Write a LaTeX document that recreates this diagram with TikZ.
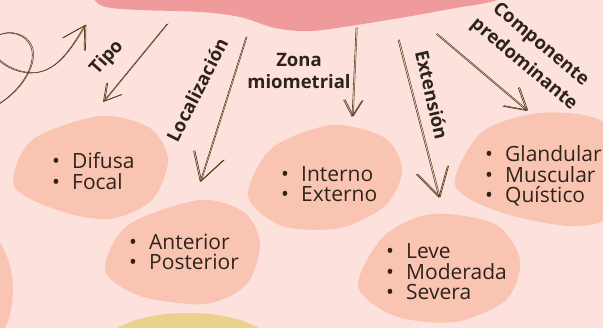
\documentclass[tikz,border=0pt]{standalone}
\usepackage{fontspec}
\setmainfont{Open Sans}
\usetikzlibrary{arrows.meta, positioning}
\definecolor{mybg}{RGB}{253,225,220}
\definecolor{myblob}{RGB}{250,196,178}
\definecolor{mytop}{RGB}{240,155,155}
\definecolor{myyellow}{RGB}{234,210,140}
\definecolor{mytext}{RGB}{45,35,25}
\definecolor{myarrow}{RGB}{85,62,30}
\tikzset{
  blob/.style={fill=myblob, draw=none},
  lbl/.style={font=\bfseries\fontsize{18.5}{22}\selectfont, text=mytext, align=center, inner sep=0pt},
  lst/.style={font=\fontsize{21}{20.5}\selectfont, text=mytext, align=left, inner sep=0pt, anchor=west},
  hand/.style={draw=myarrow, line width=0.6pt, -{Straight Barb[length=#1, width'=0pt 1.15, line width=0.7pt]},
    preaction={draw=myarrow, line width=0.5pt, transform canvas={shift={(1.3pt,0.5pt)}}}}
}
\newcommand{\blt}{\makebox[21pt][l]{\hspace{1pt}\textbullet}}

\begin{document}
\begin{tikzpicture}[x=1pt, y=-1pt]
  \useasboundingbox (0,0) rectangle (603,328);
  \clip (0,0) rectangle (603,328);
  \fill[mybg] (0,0) rectangle (603,328);

  % blobs
  \fill[mytop] plot[smooth cycle, tension=0.6] coordinates {(85,-20) (94,-1) (106,7) (140,10) (200,12) (240,17) (275,28) (310,31) (350,26) (400,18) (450,9) (500,-1) (520,-20) (300,-40)};
  \fill[blob] plot[smooth cycle] coordinates {(100,116) (150,128) (168,160) (152,200) (110,219) (60,211) (14,186) (32,140)};
  \fill[blob] plot[smooth cycle] coordinates {(200,200) (245,213) (260,245) (246,285) (205,304) (140,296) (105,270) (128,225)};
  \fill[blob] plot[smooth cycle] coordinates {(332,125) (385,138) (402,170) (386,205) (340,228) (282,226) (248,196) (272,148)};
  \fill[blob] plot[smooth cycle] coordinates {(432,214) (495,224) (520,260) (506,300) (455,322) (395,316) (358,286) (384,236)};
  \fill[blob] plot[smooth cycle] coordinates {(540,113) (600,120) (625,160) (612,215) (570,226) (500,212) (455,185) (482,132)};
  \fill[blob] (-40,290) ellipse [x radius=53pt, y radius=72pt];
  \fill[myyellow] (188,347) ellipse [x radius=85pt, y radius=34pt];

  % labels
  \node[lbl, rotate=48] (tipo) at (107,58) {Tipo};
  \node[lbl, rotate=63] (loc) at (197,90) {Localización};
  \node[lbl] (zona) at (299,71) {Zona\\miometrial};
  \node[lbl, rotate=-77] (ext) at (432,95) {Extensión};
  \node[lbl, rotate=-40, font=\bfseries\fontsize{18.5}{26}\selectfont] (comp) at (532,55) {Componente\\predominante};

  % lists
  \node[lst] (tipoL) at (51,171) {\blt Difusa\\\blt Focal};
  \node[lst] (locL) at (128,252) {\blt Anterior\\\blt Posterior};
  \node[lst] (zonaL) at (280,184) {\blt Interno\\\blt Externo};
  \node[lst] (extL) at (385,272) {\blt Leve\\\blt Moderada\\\blt Severa};
  \node[lst] (compL) at (484,176) {\blt Glandular\\\blt Muscular\\\blt Quístico};

  % arrows
  \coordinate (tipoS) at (167,24);  \coordinate (tipoE) at (103,102);
  \coordinate (locS) at (246,37);   \coordinate (locE) at (200,182);
  \coordinate (zonaS) at (356,28);  \coordinate (zonaE) at (352,117);
  \coordinate (extS) at (398,40);   \coordinate (extE) at (439,198);
  \coordinate (compS) at (436,34);  \coordinate (compE) at (527,111);
  \coordinate (loopS) at (-8,108);  \coordinate (loopE) at (85,25);
  \draw[hand=16pt] (tipoS) -- (tipoE);
  \draw[hand=27pt] (locS) -- (locE);
  \draw[hand=16pt] (zonaS) -- (zonaE);
  \draw[hand=28pt] (extS) -- (extE);
  \draw[hand=21pt] (compS) -- (compE);
  \draw[hand=22pt] (loopS) .. controls (25,90) and (38,60) .. (30,45) .. controls (22,30) and (0,30) .. (-8,40) .. controls (-15,52) and (5,72) .. (30,73) .. controls (55,74) and (70,50) .. (loopE);
\end{tikzpicture}
\end{document}
